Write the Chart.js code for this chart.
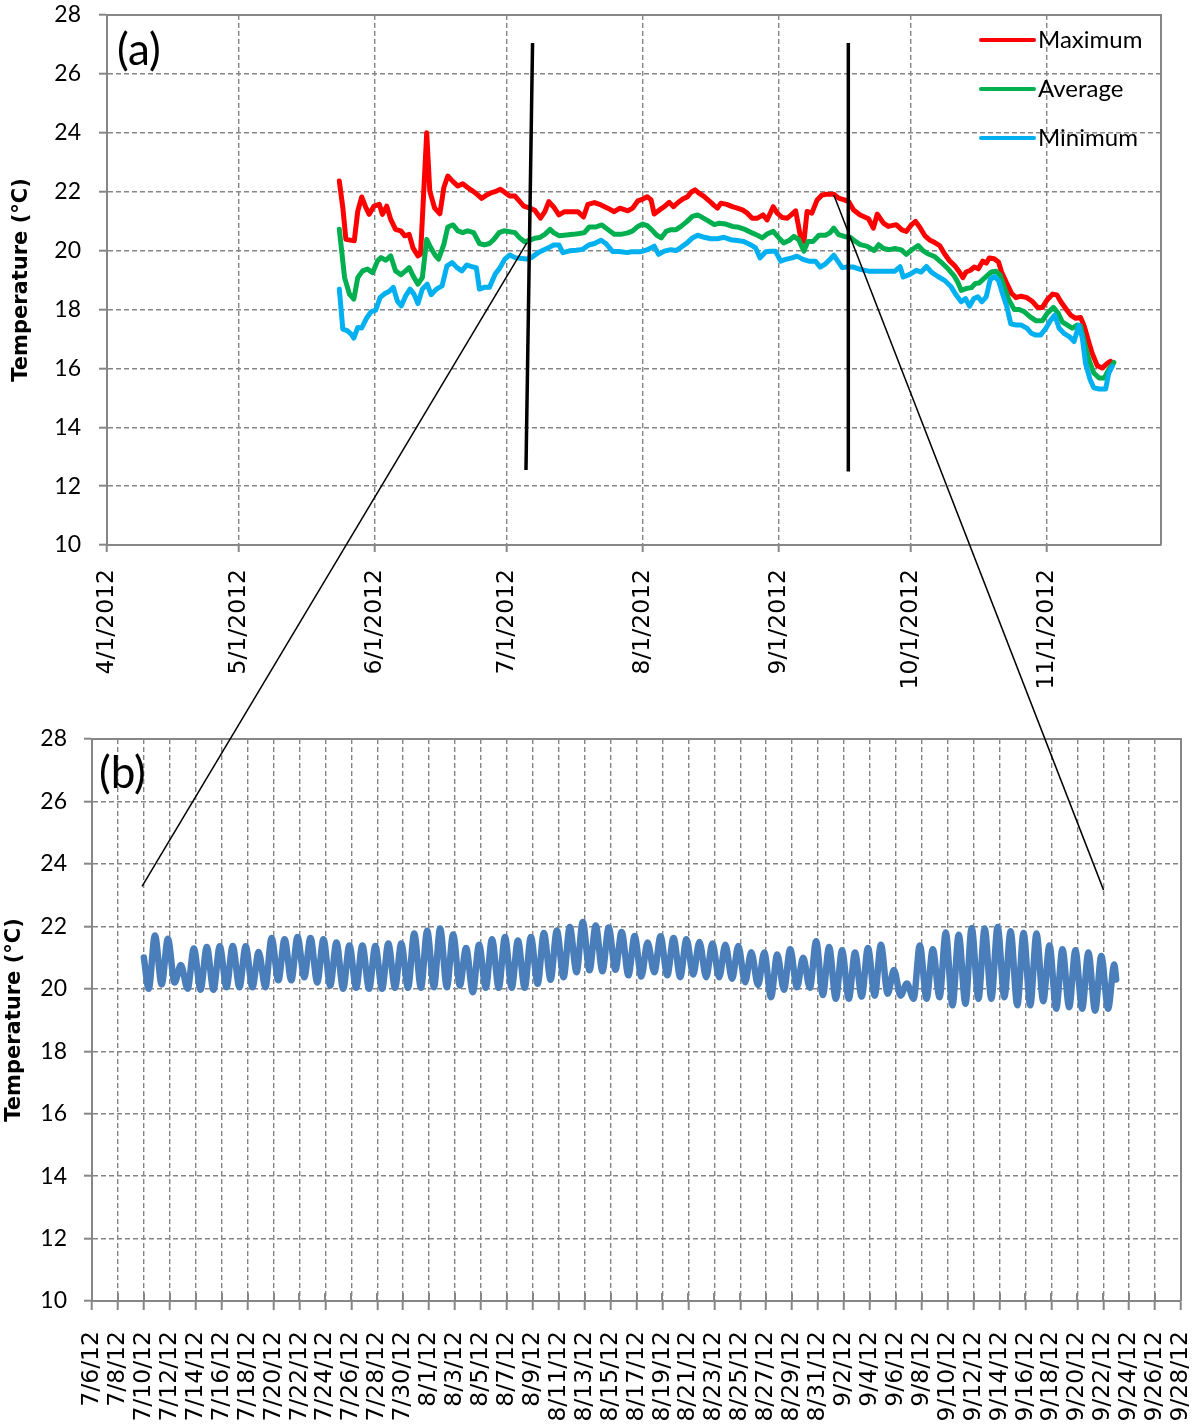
<!DOCTYPE html>
<html>
<head>
<meta charset="utf-8">
<title>Water temperature 2012</title>
<script src="https://cdn.jsdelivr.net/npm/chart.js@4.4.1/dist/chart.umd.min.js"></script>
<style>
  html, body { margin: 0; padding: 0; background: #ffffff; }
  #wrap { position: relative; width: 1204px; height: 1428px; overflow: hidden; }
  #cA { position: absolute; left: 0; top: 0; }
  #cB { position: absolute; left: 0; top: 700px; }
  #ov { position: absolute; left: 0; top: 0; pointer-events: none; }
</style>
</head>
<body>
<div id="wrap">
  <canvas id="cA" width="1204" height="700"></canvas>
  <canvas id="cB" width="1204" height="728"></canvas>
  <canvas id="ov" width="1204" height="1428"></canvas>
</div>
<script>
// ---------- Panel (a): daily temperatures, x = days since 4/1/2012 ----------
const monthStarts = [0, 30, 61, 91, 122, 153, 183, 214];
const monthLabels = ['4/1/2012', '5/1/2012', '6/1/2012', '7/1/2012', '8/1/2012', '9/1/2012', '10/1/2012', '11/1/2012'];

const maxDays = [52.9, 53.7, 54.4, 56.3, 57.1, 58.0, 59.0, 59.7, 60.8, 62.0, 62.7, 63.7, 64.6, 65.7, 66.9, 67.8, 68.8, 69.7, 70.8, 71.4,
  72.8, 73.5, 74.6, 75.8, 76.7, 77.6, 78.8, 79.9, 81.0, 82.1, 83.3, 84.4, 85.3, 86.5, 87.6, 88.7, 89.6, 90.6, 91.7, 92.9,
  93.9, 94.9, 96.3, 97.4, 98.7, 99.7, 100.6, 101.7, 102.9, 104.2, 105.7, 107.2, 108.5, 109.5, 111.0, 112.5, 114.0, 115.5, 116.8, 118.6,
  119.7, 120.9, 122.0, 123.0, 123.9, 124.6, 125.8, 126.9, 128.0, 129.0, 130.1, 131.1, 132.2, 133.0, 133.9, 134.9, 136.0, 137.1, 138.1, 139.0,
  139.8, 141.1, 142.4, 143.5, 144.7, 145.8, 146.9, 148.1, 149.4, 150.3, 151.7, 152.6, 153.8, 154.9, 155.8, 156.8, 157.9, 158.7, 159.4, 160.5,
  161.7, 162.8, 163.9, 165.5, 166.6, 167.9, 168.9, 170.0, 171.5, 173.4, 174.5, 175.4, 176.8, 177.9, 179.7, 181.0, 182.0, 183.2, 184.1, 185.0,
  186.2, 187.3, 188.4, 189.6, 190.7, 191.8, 193.0, 194.1, 194.9, 195.6, 196.6, 197.5, 198.4, 199.4, 200.2, 200.9, 202.0, 203.0, 203.7, 204.9,
  206.0, 207.0, 208.1, 209.5, 210.8, 211.9, 213.0, 214.0, 215.3, 216.3, 217.2, 218.3, 219.4, 220.6, 221.7, 222.5, 223.4, 224.3, 225.5, 226.6,
  227.7, 228.5];
const maxTemps = [22.36, 21.46, 20.38, 20.33, 21.34, 21.82, 21.44, 21.23, 21.51, 21.57, 21.23, 21.51, 21.06, 20.72, 20.67, 20.50, 20.55, 20.08, 19.82, 19.88,
  24.00, 22.02, 21.44, 21.25, 22.14, 22.53, 22.34, 22.19, 22.27, 22.14, 22.02, 21.89, 21.77, 21.89, 21.97, 22.02, 22.08, 21.97, 21.85, 21.85,
  21.68, 21.51, 21.44, 21.37, 21.10, 21.32, 21.66, 21.48, 21.21, 21.32, 21.32, 21.32, 21.14, 21.57, 21.63, 21.55, 21.44, 21.32, 21.44, 21.35,
  21.44, 21.69, 21.75, 21.83, 21.72, 21.24, 21.38, 21.49, 21.64, 21.49, 21.64, 21.75, 21.83, 21.98, 22.06, 21.94, 21.83, 21.69, 21.55, 21.44,
  21.61, 21.57, 21.49, 21.44, 21.38, 21.27, 21.10, 21.10, 21.21, 21.04, 21.49, 21.27, 21.12, 21.10, 21.21, 21.35, 20.48, 20.31, 21.33, 21.27,
  21.72, 21.89, 21.91, 21.91, 21.78, 21.72, 21.66, 21.38, 21.21, 21.08, 20.76, 21.24, 20.93, 20.82, 20.88, 20.70, 20.65, 20.88, 20.99, 20.81,
  20.51, 20.36, 20.28, 20.17, 19.89, 19.66, 19.49, 19.27, 19.08, 19.27, 19.33, 19.44, 19.38, 19.64, 19.57, 19.75, 19.72, 19.61, 19.27, 18.88,
  18.54, 18.40, 18.45, 18.40, 18.26, 18.07, 18.07, 18.31, 18.52, 18.49, 18.26, 18.03, 17.81, 17.70, 17.73, 17.44, 16.97, 16.52, 16.09, 16.01,
  16.16, 16.24];

const avgDays = [52.9, 54.1, 55.2, 56.2, 57.1, 58.2, 59.3, 60.5, 61.6, 62.4, 63.5, 64.6, 65.7, 66.9, 68.0, 68.8, 69.7, 70.8, 71.8, 72.8,
  73.7, 74.8, 75.5, 76.7, 77.6, 78.8, 79.9, 81.0, 82.1, 83.5, 84.8, 85.9, 87.1, 88.1, 89.3, 90.4, 91.7, 92.9, 93.9, 95.1,
  96.3, 97.4, 98.5, 99.7, 100.9, 101.7, 103.0, 104.6, 106.1, 107.6, 108.7, 109.8, 111.3, 112.7, 114.0, 115.5, 117.0, 118.6, 119.7, 120.9,
  122.0, 123.0, 124.0, 125.2, 126.2, 127.3, 128.4, 129.6, 130.7, 132.1, 133.3, 134.5, 135.6, 136.9, 138.3, 139.4, 140.9, 142.4, 143.9, 145.4,
  146.9, 148.1, 149.2, 150.3, 151.7, 153.0, 154.1, 155.3, 156.4, 157.5, 158.7, 159.6, 160.8, 162.1, 163.6, 164.6, 165.5, 166.6, 167.9, 169.2,
  170.4, 171.5, 173.0, 174.7, 175.7, 176.8, 178.2, 179.4, 180.9, 182.0, 183.2, 184.7, 185.8, 186.9, 188.4, 189.9, 191.5, 192.8, 193.7, 194.5,
  195.6, 196.8, 197.7, 198.6, 199.6, 200.5, 201.4, 202.4, 203.4, 204.3, 205.4, 206.6, 207.7, 208.9, 210.2, 211.5, 213.0, 214.1, 215.5, 216.6,
  217.5, 218.7, 219.8, 220.9, 221.7, 222.6, 223.6, 224.7, 225.9, 227.1, 228.1, 229.3];
const avgTemps = [20.72, 19.08, 18.52, 18.35, 19.08, 19.31, 19.37, 19.25, 19.65, 19.76, 19.67, 19.82, 19.31, 19.18, 19.31, 19.42, 19.14, 18.86, 19.08, 20.38,
  20.10, 19.82, 19.71, 20.21, 20.80, 20.87, 20.67, 20.61, 20.67, 20.61, 20.24, 20.19, 20.24, 20.38, 20.61, 20.67, 20.64, 20.61, 20.44, 20.30,
  20.35, 20.42, 20.44, 20.55, 20.72, 20.61, 20.50, 20.53, 20.55, 20.58, 20.61, 20.80, 20.80, 20.87, 20.72, 20.55, 20.55, 20.60, 20.67, 20.82,
  20.90, 20.85, 20.71, 20.52, 20.43, 20.65, 20.71, 20.71, 20.82, 20.99, 21.16, 21.21, 21.12, 21.01, 20.88, 20.93, 20.90, 20.82, 20.79, 20.71,
  20.60, 20.52, 20.43, 20.56, 20.65, 20.43, 20.26, 20.34, 20.48, 20.37, 19.98, 20.31, 20.31, 20.52, 20.52, 20.60, 20.76, 20.54, 20.48, 20.45,
  20.31, 20.20, 20.15, 20.00, 20.20, 20.07, 20.03, 20.07, 20.02, 19.87, 20.02, 20.17, 20.00, 19.89, 19.80, 19.61, 19.38, 19.16, 18.93, 18.65,
  18.71, 18.74, 18.88, 18.90, 19.04, 19.16, 19.27, 19.30, 19.16, 18.76, 18.31, 18.00, 18.00, 17.92, 17.75, 17.62, 17.62, 17.87, 18.07, 17.87,
  17.58, 17.47, 17.36, 17.47, 17.44, 16.85, 16.29, 15.84, 15.67, 15.67, 15.96, 16.20];

const minDays = [52.9, 53.7, 54.7, 55.6, 56.2, 57.1, 58.0, 59.2, 60.2, 61.2, 62.2, 63.3, 64.2, 65.2, 66.1, 67.0, 68.0, 69.0, 69.9, 70.8,
  71.8, 72.9, 73.8, 75.0, 76.3, 77.4, 78.6, 79.7, 80.8, 81.9, 83.1, 84.1, 84.8, 85.9, 87.1, 88.4, 89.5, 90.6, 91.7, 92.9,
  94.0, 95.5, 96.6, 98.2, 99.3, 100.6, 101.7, 102.9, 103.8, 105.3, 106.8, 108.3, 109.7, 111.0, 112.5, 113.6, 115.1, 116.6, 118.5, 119.4,
  121.6, 123.1, 124.6, 125.6, 126.9, 128.4, 129.6, 130.7, 132.1, 133.3, 134.5, 136.0, 137.5, 139.0, 140.5, 142.0, 143.5, 145.0, 146.5, 147.7,
  148.7, 150.0, 151.1, 152.2, 153.4, 154.5, 156.0, 157.1, 158.5, 159.8, 161.3, 162.4, 163.6, 164.6, 165.5, 166.4, 167.4, 168.5, 170.0, 171.5,
  173.4, 175.3, 177.6, 179.4, 180.6, 181.3, 182.8, 184.3, 185.4, 186.6, 187.7, 189.2, 190.7, 192.1, 193.4, 194.5, 195.5, 196.4, 197.4, 198.3,
  199.2, 200.2, 201.1, 202.0, 203.0, 203.9, 204.9, 205.8, 207.0, 208.2, 209.5, 210.5, 211.5, 212.6, 213.8, 214.9, 215.8, 216.8, 217.9, 219.1,
  220.2, 221.3, 222.1, 222.8, 223.8, 224.7, 225.9, 227.4, 228.1, 228.9];
const minTemps = [18.69, 17.33, 17.28, 17.16, 17.03, 17.39, 17.37, 17.73, 17.93, 17.98, 18.41, 18.54, 18.61, 18.75, 18.29, 18.12, 18.46, 18.69, 18.52, 18.20,
  18.69, 18.86, 18.50, 18.69, 18.80, 19.48, 19.59, 19.42, 19.31, 19.51, 19.45, 19.42, 18.69, 18.75, 18.75, 19.20, 19.42, 19.71, 19.85, 19.76,
  19.74, 19.71, 19.76, 19.93, 20.01, 20.10, 20.19, 20.19, 19.93, 19.99, 20.01, 20.04, 20.19, 20.24, 20.35, 20.24, 19.97, 19.97, 19.93, 19.96,
  19.96, 20.03, 20.15, 19.87, 19.98, 20.03, 20.00, 20.11, 20.26, 20.43, 20.52, 20.45, 20.40, 20.40, 20.45, 20.37, 20.34, 20.31, 20.20, 20.09,
  19.75, 19.96, 19.98, 19.98, 19.64, 19.70, 19.75, 19.81, 19.70, 19.64, 19.64, 19.44, 19.55, 19.70, 19.84, 19.64, 19.42, 19.44, 19.44, 19.36,
  19.30, 19.30, 19.30, 19.30, 19.45, 19.10, 19.19, 19.33, 19.27, 19.46, 19.27, 19.12, 18.99, 18.79, 18.48, 18.26, 18.37, 18.11, 18.37, 18.43,
  18.26, 18.43, 19.01, 19.12, 18.99, 18.54, 18.09, 17.51, 17.47, 17.47, 17.36, 17.19, 17.13, 17.13, 17.36, 17.64, 17.81, 17.36, 17.19, 17.08,
  16.91, 17.47, 17.02, 16.18, 15.64, 15.34, 15.30, 15.30, 15.84, 16.07];

// ---------- Panel (b): daily swing 7/10/2012 - 9/22/2012, x = days since 7/6/2012 ----------
const bTickLabels = ['7/6/12', '7/8/12', '7/10/12', '7/12/12', '7/14/12', '7/16/12', '7/18/12', '7/20/12', '7/22/12', '7/24/12',
  '7/26/12', '7/28/12', '7/30/12', '8/1/12', '8/3/12', '8/5/12', '8/7/12', '8/9/12', '8/11/12', '8/13/12', '8/15/12',
  '8/17/12', '8/19/12', '8/21/12', '8/23/12', '8/25/12', '8/27/12', '8/29/12', '8/31/12', '9/2/12', '9/4/12', '9/6/12',
  '9/8/12', '9/10/12', '9/12/12', '9/14/12', '9/16/12', '9/18/12', '9/20/12', '9/22/12', '9/24/12', '9/26/12', '9/28/12'];
const firstDay = 4;          // 7/10/2012
const lowHour = 9;           // time of the daily minimum
const highHour = 20.5;       // time of the daily maximum
const firstReading = 21.0;
const lastReading = 20.3;
const dailyLow = [20.00, 20.14, 20.20, 20.00, 19.97, 19.97, 20.05, 20.05, 20.05, 20.05,
  20.27, 20.27, 20.37, 20.20, 20.10, 20.00, 20.03, 20.00, 20.00, 20.03,
  20.03, 20.03, 20.05, 20.05, 20.10, 19.89, 20.03, 20.03, 20.03, 20.03,
  20.16, 20.29, 20.37, 20.53, 20.59, 20.56, 20.61, 20.43, 20.39, 20.53,
  20.43, 20.37, 20.46, 20.37, 20.37, 20.32, 20.21, 20.12, 19.73, 19.97,
  20.05, 20.03, 19.80, 19.68, 19.68, 19.75, 19.78, 19.84, 19.78, 19.68,
  19.68, 19.73, 19.47, 19.52, 19.68, 19.68, 19.73, 19.47, 19.47, 19.60,
  19.36, 19.41, 19.36, 19.30, 19.36];
const dailyHigh = [21.71, 21.60, 20.76, 21.29, 21.34, 21.36, 21.37, 21.36, 21.18, 21.63,
  21.59, 21.66, 21.63, 21.59, 21.48, 21.39, 21.39, 21.37, 21.45, 21.45,
  21.77, 21.86, 21.93, 21.74, 21.31, 21.41, 21.59, 21.66, 21.55, 21.66,
  21.79, 21.87, 21.98, 22.14, 22.03, 21.96, 21.82, 21.69, 21.48, 21.68,
  21.63, 21.59, 21.50, 21.45, 21.41, 21.37, 21.17, 21.16, 21.10, 21.27,
  20.99, 21.52, 21.34, 21.23, 21.16, 21.31, 21.41, 20.60, 20.17, 21.39,
  21.27, 21.80, 21.73, 21.95, 21.93, 21.98, 21.84, 21.79, 21.77, 21.39,
  21.27, 21.23, 21.16, 21.05, 20.78];

// Zoom guides: bars over panel (a) and links into panel (b), in each panel's data units
const zoomBars = [
  { top: [96.9, 27.05], bottom: [95.4, 12.55] },
  { top: [168.8, 27.05], bottom: [168.8, 12.5] }
];
const zoomLinks = [
  { from: [95.6, 20.26], to: [3.86, 23.28] },
  { from: [165.5, 21.89], to: [78.03, 23.16] }
];

// ---------- shared styling ----------
const GRID = '#858585';
const AXIS = '#868686';
const TITLE_FONT = { family: 'DejaVu Sans', size: 21, weight: 'bold' };
const Y_FONT = { family: 'Lato', size: 23 };
const X_FONT = { family: 'DejaVu Sans', size: 23.5 };

function yAxis(width, pad, titlePad) {
  return {
    type: 'linear', min: 10, max: 28,
    afterFit: s => { s.width = width; s.paddingTop = 0; s.paddingBottom = 0; },
    ticks: { stepSize: 2, color: '#000', font: Y_FONT, padding: pad },
    grid: { color: GRID, lineWidth: 1.4, tickLength: 8, tickColor: AXIS, tickWidth: 2 },
    border: { color: AXIS, width: 2, dash: [5, 3] },
    title: { display: true, text: 'Temperature (°C)', color: '#000', font: TITLE_FONT, padding: { top: titlePad, bottom: 0 } }
  };
}

function xAxis(opts) {
  return {
    type: 'linear', min: opts.min, max: opts.max,
    afterFit: s => { s.height = opts.height; s.paddingLeft = 0; s.paddingRight = 0; },
    afterBuildTicks: s => { s.ticks = opts.values.map(v => ({ value: v })); },
    ticks: {
      autoSkip: false, minRotation: 90, maxRotation: 90, padding: opts.pad,
      color: '#000', font: X_FONT, callback: (v, i) => opts.labels[i]
    },
    grid: { color: GRID, lineWidth: 1.4, tickLength: opts.tick, tickColor: AXIS, tickWidth: 2 },
    border: { color: AXIS, width: 2, dash: [5, 3] }
  };
}

// solid plot-area frame (top and right edges)
const framePlugin = {
  id: 'frame',
  beforeDatasetsDraw(chart) {
    const { ctx, chartArea: a } = chart;
    ctx.save();
    ctx.strokeStyle = AXIS;
    ctx.lineWidth = 2;
    ctx.beginPath();
    ctx.moveTo(a.left, a.top);
    ctx.lineTo(a.right, a.top);
    ctx.lineTo(a.right, a.bottom);
    ctx.stroke();
    ctx.restore();
  }
};

function panelTag(text, dx, dy) {
  return {
    id: 'panelTag',
    afterDraw(chart) {
      const { ctx, chartArea: a } = chart;
      ctx.save();
      ctx.font = '44px Lato';
      ctx.fillStyle = '#000';
      ctx.textBaseline = 'middle';
      ctx.fillText(text, a.left + dx, a.top + dy);
      ctx.restore();
    }
  };
}

// legend drawn as a vertical stack in the upper right of the plot
const legendPlugin = {
  id: 'stackLegend',
  afterDraw(chart) {
    const { ctx, chartArea: a } = chart;
    ctx.save();
    ctx.font = '24px Lato';
    ctx.fillStyle = '#000';
    ctx.textBaseline = 'middle';
    chart.data.datasets.forEach((ds, i) => {
      const y = a.top + 25 + i * 49;
      ctx.strokeStyle = ds.borderColor;
      ctx.lineWidth = 4;
      ctx.lineCap = 'round';
      ctx.beginPath();
      ctx.moveTo(a.right - 180, y);
      ctx.lineTo(a.right - 127, y);
      ctx.stroke();
      ctx.fillText(ds.label, a.right - 123, y);
    });
    ctx.restore();
  }
};

// tick marks that cross the date axis of panel (b)
const crossTicks = {
  id: 'crossTicks',
  beforeDatasetsDraw(chart) {
    const { ctx, scales: { x }, chartArea: a } = chart;
    ctx.save();
    ctx.strokeStyle = AXIS;
    ctx.lineWidth = 2;
    x.ticks.forEach(t => {
      const px = Math.round(x.getPixelForValue(t.value));
      ctx.beginPath();
      ctx.moveTo(px, a.bottom - 8);
      ctx.lineTo(px, a.bottom);
      ctx.stroke();
    });
    ctx.restore();
  }
};

// ---------- Chart (a) ----------
const seriesA = [
  { label: 'Maximum', days: maxDays, temps: maxTemps, color: '#FF0000', order: 3 },
  { label: 'Average', days: avgDays, temps: avgTemps, color: '#00B050', order: 2 },
  { label: 'Minimum', days: minDays, temps: minTemps, color: '#00B0F0', order: 1 }
];

const chartA = new Chart(document.getElementById('cA'), {
  type: 'line',
  data: {
    datasets: seriesA.map(s => ({
      label: s.label,
      data: s.days.map((d, i) => ({ x: d, y: s.temps[i] })),
      borderColor: s.color,
      backgroundColor: s.color,
      borderWidth: 5,
      pointRadius: 0,
      tension: 0,
      fill: false,
      order: s.order,
      borderJoinStyle: 'round',
      borderCapStyle: 'round'
    }))
  },
  options: {
    responsive: false,
    animation: false,
    devicePixelRatio: 1,
    layout: { padding: { top: 15, right: 43, left: 0, bottom: 0 } },
    plugins: { legend: { display: false }, tooltip: { enabled: false } },
    scales: {
      x: xAxis({ min: 0, max: 240, height: 155, values: monthStarts, labels: monthLabels, pad: 17, tick: 7 }),
      y: yAxis(107, 18, 9)
    }
  },
  plugins: [framePlugin, legendPlugin, panelTag('(a)', 10, 36)]
});

// ---------- Chart (b) ----------
const bPoints = [{ x: firstDay, y: firstReading }];
dailyLow.forEach((lo, d) => {
  bPoints.push({ x: firstDay + d + lowHour / 24, y: lo });
  bPoints.push({ x: firstDay + d + highHour / 24, y: dailyHigh[d] });
});
bPoints.push({ x: firstDay + dailyLow.length, y: lastReading });

const chartB = new Chart(document.getElementById('cB'), {
  type: 'line',
  data: {
    datasets: [{
      label: 'Temperature',
      data: bPoints,
      borderColor: '#4A7EBB',
      borderWidth: 6.5,
      pointRadius: 0,
      tension: 0.4,
      cubicInterpolationMode: 'monotone',
      fill: false,
      borderJoinStyle: 'round',
      borderCapStyle: 'round'
    }]
  },
  options: {
    responsive: false,
    animation: false,
    devicePixelRatio: 1,
    layout: { padding: { top: 39, right: 23, left: 0, bottom: 0 } },
    plugins: { legend: { display: false }, tooltip: { enabled: false } },
    scales: {
      x: xAxis({ min: 0, max: 84, height: 127, values: bTickLabels.map((_, i) => 2 * i), labels: bTickLabels, pad: 21, tick: 9 }),
      y: yAxis(92, 17, 2)
    }
  },
  plugins: [framePlugin, crossTicks, panelTag('(b)', 7, 35)]
});

// ---------- zoom guides across both panels ----------
function drawZoomGuides() {
  const ov = document.getElementById('ov');
  const ctx = ov.getContext('2d');
  const offB = document.getElementById('cB').offsetTop;
  const ax = chartA.scales.x, ay = chartA.scales.y;
  const bx = chartB.scales.x, by = chartB.scales.y;
  const pA = ([d, t]) => [ax.getPixelForValue(d), ay.getPixelForValue(t)];
  const pB = ([d, t]) => [bx.getPixelForValue(d), by.getPixelForValue(t) + offB];
  const seg = (p, q) => { ctx.beginPath(); ctx.moveTo(p[0], p[1]); ctx.lineTo(q[0], q[1]); ctx.stroke(); };
  ctx.clearRect(0, 0, ov.width, ov.height);
  ctx.strokeStyle = '#000';
  ctx.lineWidth = 3.5;
  zoomBars.forEach(b => seg(pA(b.top), pA(b.bottom)));
  ctx.lineWidth = 1.5;
  zoomLinks.forEach(l => seg(pA(l.from), pB(l.to)));
}
drawZoomGuides();
</script>
</body>
</html>
